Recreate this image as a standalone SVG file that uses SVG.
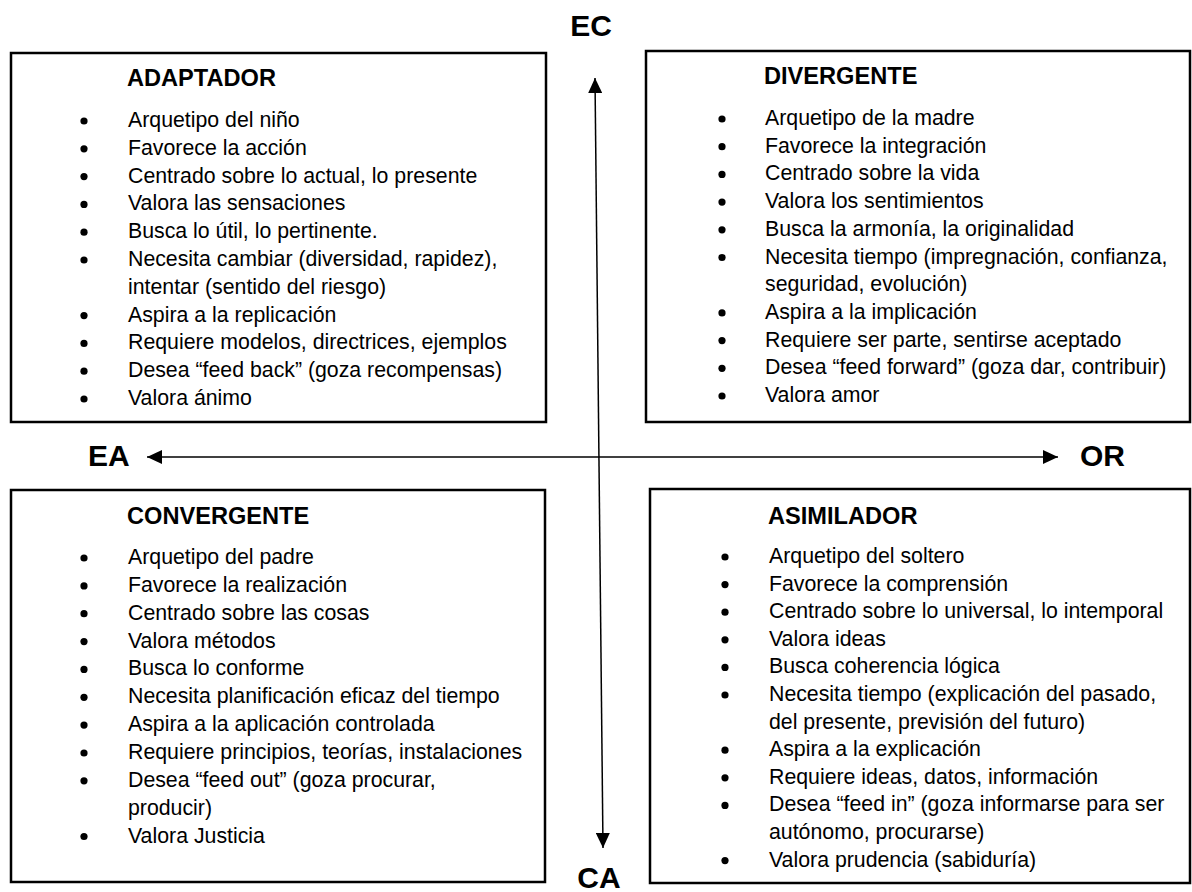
<svg xmlns="http://www.w3.org/2000/svg" width="1192" height="892" viewBox="0 0 1192 892">
<style>
.box{fill:#fff;stroke:#000;stroke-width:2.5}
.t{font-family:"Liberation Sans",Arial,sans-serif;font-size:21.3px;fill:#000}
.h{font-family:"Liberation Sans",Arial,sans-serif;font-size:23.6px;font-weight:bold;fill:#000}
.ax{font-family:"Liberation Sans",Arial,sans-serif;font-size:30px;font-weight:bold;fill:#000}
.conn{stroke:#000;stroke-width:1.5;fill:none}
</style>
<defs>
<marker id="ah" viewBox="0 0 15 14" refX="15" refY="7" markerWidth="15" markerHeight="14" markerUnits="userSpaceOnUse" orient="auto-start-reverse">
<path d="M0,0 L15,7 L0,14 Z" fill="#000"/>
</marker>
<circle id="b" r="3.6" fill="#000"/>
</defs>
<rect width="1192" height="892" fill="#fff"/>
<g id="adaptador">
<rect class="box" x="11" y="53" width="535" height="369"/>
<text class="h" x="127" y="85.5">ADAPTADOR</text>
<g>
<use href="#b" x="84" y="121"/><use href="#b" x="84" y="148.8"/><use href="#b" x="84" y="176.6"/><use href="#b" x="84" y="204.4"/><use href="#b" x="84" y="232.2"/><use href="#b" x="84" y="260"/><use href="#b" x="84" y="315.6"/><use href="#b" x="84" y="343.4"/><use href="#b" x="84" y="371.2"/><use href="#b" x="84" y="399"/>
</g>
<text class="t" x="128" y="127">Arquetipo del niño</text>
<text class="t" x="128" y="154.8">Favorece la acción</text>
<text class="t" x="128" y="182.6">Centrado sobre lo actual, lo presente</text>
<text class="t" x="128" y="210.4">Valora las sensaciones</text>
<text class="t" x="128" y="238.2">Busca lo útil, lo pertinente.</text>
<text class="t" x="128" y="266">Necesita cambiar (diversidad, rapidez),</text>
<text class="t" x="128" y="293.8">intentar (sentido del riesgo)</text>
<text class="t" x="128" y="321.6">Aspira a la replicación</text>
<text class="t" x="128" y="349.4">Requiere modelos, directrices, ejemplos</text>
<text class="t" x="128" y="377.2">Desea “feed back” (goza recompensas)</text>
<text class="t" x="128" y="405">Valora ánimo</text>
</g>
<g id="divergente">
<rect class="box" x="646" y="51" width="544" height="371"/>
<text class="h" x="764" y="83.5">DIVERGENTE</text>
<g>
<use href="#b" x="722" y="119"/><use href="#b" x="722" y="146.7"/><use href="#b" x="722" y="174.4"/><use href="#b" x="722" y="202.1"/><use href="#b" x="722" y="229.8"/><use href="#b" x="722" y="257.5"/><use href="#b" x="722" y="312.9"/><use href="#b" x="722" y="340.6"/><use href="#b" x="722" y="368.3"/><use href="#b" x="722" y="396"/>
</g>
<text class="t" x="765" y="125">Arquetipo de la madre</text>
<text class="t" x="765" y="152.7">Favorece la integración</text>
<text class="t" x="765" y="180.4">Centrado sobre la vida</text>
<text class="t" x="765" y="208.1">Valora los sentimientos</text>
<text class="t" x="765" y="235.8">Busca la armonía, la originalidad</text>
<text class="t" x="765" y="263.5">Necesita tiempo (impregnación, confianza,</text>
<text class="t" x="765" y="291.2">seguridad, evolución)</text>
<text class="t" x="765" y="318.9">Aspira a la implicación</text>
<text class="t" x="765" y="346.6">Requiere ser parte, sentirse aceptado</text>
<text class="t" x="765" y="374.3">Desea “feed forward” (goza dar, contribuir)</text>
<text class="t" x="765" y="402">Valora amor</text>
</g>
<g id="convergente">
<rect class="box" x="11" y="490" width="534" height="392"/>
<text class="h" x="127" y="523.5">CONVERGENTE</text>
<g>
<use href="#b" x="84" y="558"/><use href="#b" x="84" y="585.9"/><use href="#b" x="84" y="613.7"/><use href="#b" x="84" y="641.6"/><use href="#b" x="84" y="669.4"/><use href="#b" x="84" y="697.3"/><use href="#b" x="84" y="725.1"/><use href="#b" x="84" y="753"/><use href="#b" x="84" y="780.8"/><use href="#b" x="84" y="836.5"/>
</g>
<text class="t" x="128" y="564">Arquetipo del padre</text>
<text class="t" x="128" y="591.9">Favorece la realización</text>
<text class="t" x="128" y="619.7">Centrado sobre las cosas</text>
<text class="t" x="128" y="647.6">Valora métodos</text>
<text class="t" x="128" y="675.4">Busca lo conforme</text>
<text class="t" x="128" y="703.3">Necesita planificación eficaz del tiempo</text>
<text class="t" x="128" y="731.1">Aspira a la aplicación controlada</text>
<text class="t" x="128" y="759">Requiere principios, teorías, instalaciones</text>
<text class="t" x="128" y="786.8">Desea “feed out” (goza procurar,</text>
<text class="t" x="128" y="814.7">producir)</text>
<text class="t" x="128" y="842.5">Valora Justicia</text>
</g>
<g id="asimilador">
<rect class="box" x="650" y="489" width="540" height="394"/>
<text class="h" x="768" y="523.5">ASIMILADOR</text>
<g>
<use href="#b" x="725" y="557"/><use href="#b" x="725" y="584.6"/><use href="#b" x="725" y="612.2"/><use href="#b" x="725" y="639.8"/><use href="#b" x="725" y="667.4"/><use href="#b" x="725" y="695"/><use href="#b" x="725" y="750.2"/><use href="#b" x="725" y="777.8"/><use href="#b" x="725" y="805.4"/><use href="#b" x="725" y="860.6"/>
</g>
<text class="t" x="769" y="563">Arquetipo del soltero</text>
<text class="t" x="769" y="590.6">Favorece la comprensión</text>
<text class="t" x="769" y="618.2">Centrado sobre lo universal, lo intemporal</text>
<text class="t" x="769" y="645.8">Valora ideas</text>
<text class="t" x="769" y="673.4">Busca coherencia lógica</text>
<text class="t" x="769" y="701">Necesita tiempo (explicación del pasado,</text>
<text class="t" x="769" y="728.6">del presente, previsión del futuro)</text>
<text class="t" x="769" y="756.2">Aspira a la explicación</text>
<text class="t" x="769" y="783.8">Requiere ideas, datos, información</text>
<text class="t" x="769" y="811.4">Desea “feed in” (goza informarse para ser</text>
<text class="t" x="769" y="839">autónomo, procurarse)</text>
<text class="t" x="769" y="866.6">Valora prudencia (sabiduría)</text>
</g>
<g id="axis-labels">
<text class="ax" x="591" y="36" text-anchor="middle">EC</text>
<text class="ax" x="599" y="888" text-anchor="middle">CA</text>
<text class="ax" x="88" y="466">EA</text>
<text class="ax" x="1080" y="466">OR</text>
</g>
<g id="connectors">
<line class="conn" x1="603" y1="848" x2="595" y2="78" marker-end="url(#ah)" marker-start="url(#ah)"/>
<line class="conn" x1="147" y1="457" x2="1058" y2="457" marker-end="url(#ah)" marker-start="url(#ah)"/>
</g>
</svg>
